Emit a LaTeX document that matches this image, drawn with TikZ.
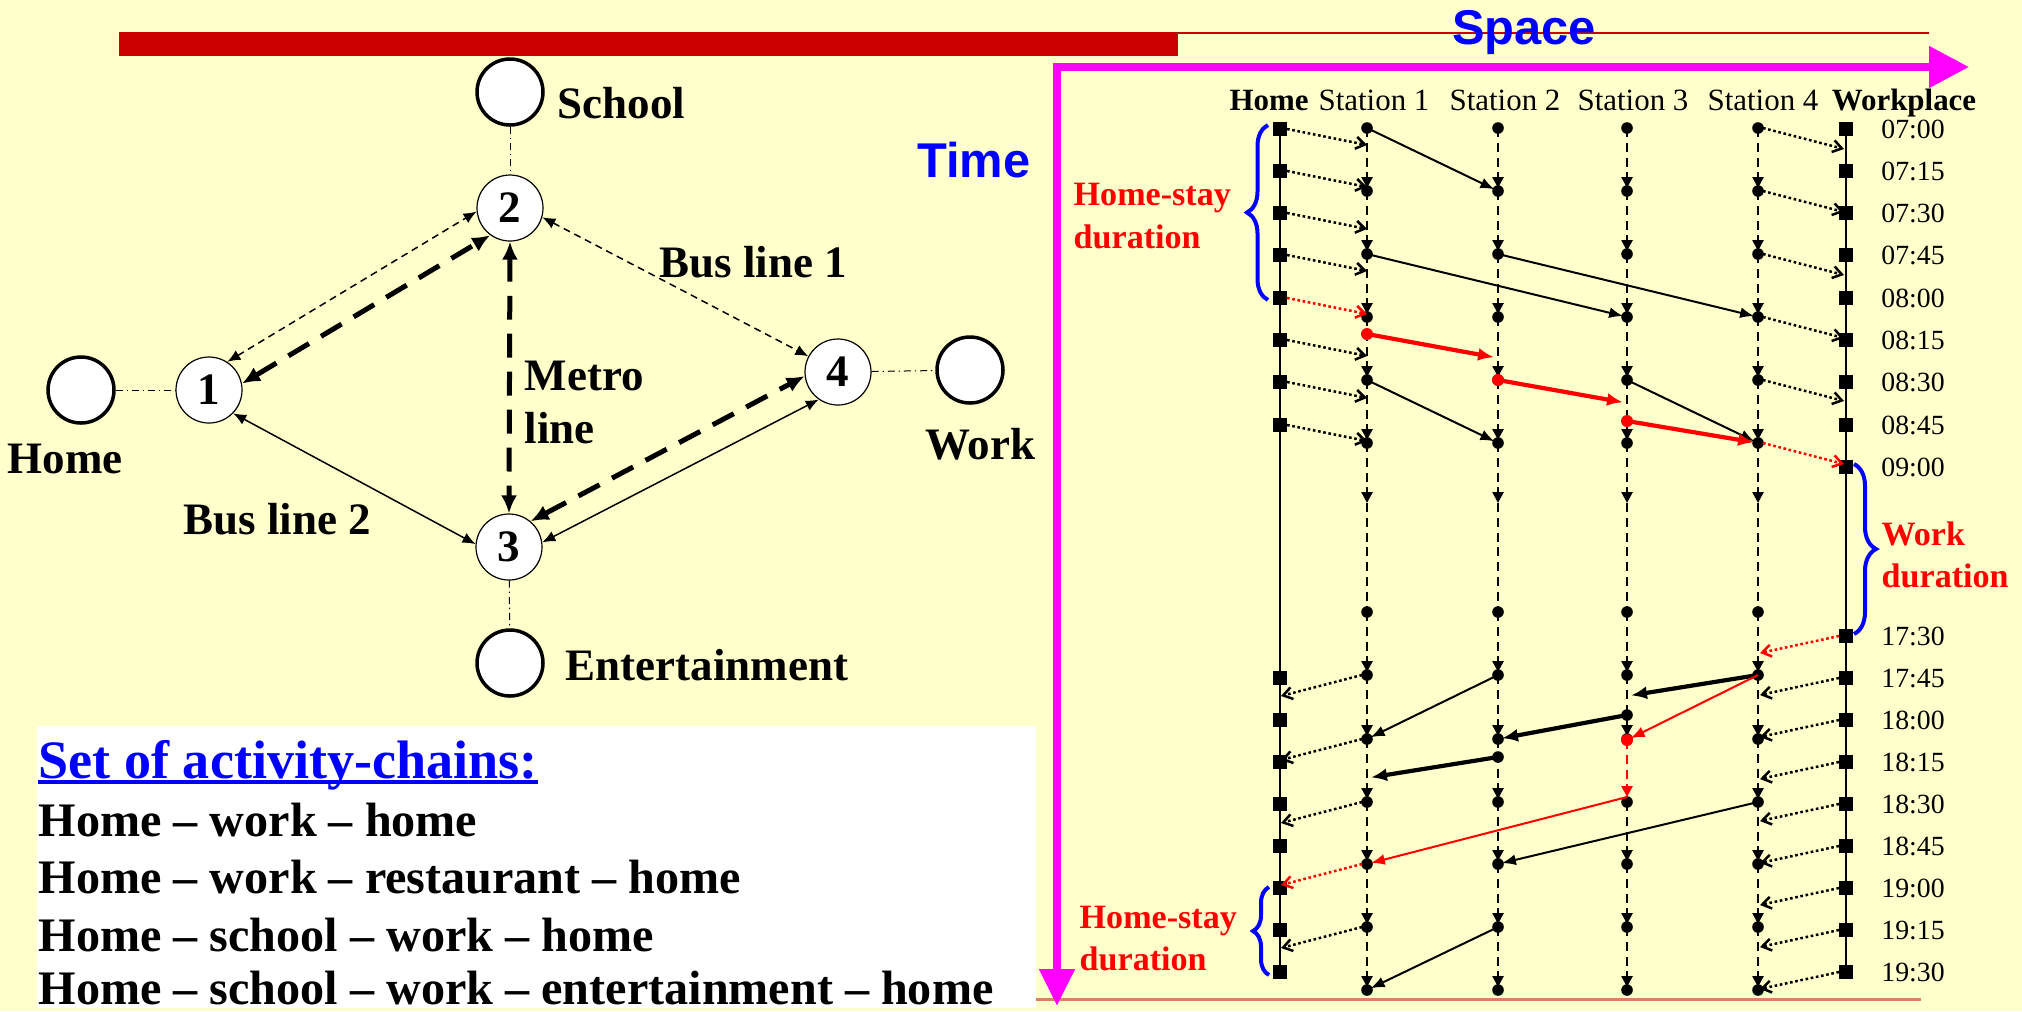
\documentclass[tikz,border=0pt]{standalone}
\usepackage{fontspec}
\setmainfont{Liberation Serif}
\newfontfamily\arialfont{Liberation Sans}
\usetikzlibrary{arrows.meta,decorations.pathreplacing}

\definecolor{paper}{HTML}{FFFFCC}
\definecolor{barred}{HTML}{CC0000}
\definecolor{floorline}{HTML}{DC806C}
\definecolor{axismag}{HTML}{FF00FF}

% x of the chart columns: home, stations 1-4, workplace
\def\xH{1280}
\def\xA{1367}
\def\xB{1498}
\def\xC{1627}
\def\xD{1758}
\def\xW{1846}

\tikzset{
	place/.style={circle, draw, fill=white, line width=0.12mm, minimum size=6.6mm, inner sep=0pt, font=\fontsize{12.8}{14}\selectfont\bfseries},
	spot/.style={circle, draw, fill=white, line width=0.35mm, minimum size=6.6mm, inner sep=0pt},
	netlabel/.style={inner sep=0pt, font=\fontsize{12.8}{14}\selectfont\bfseries},
	feeder/.style={line width=0.1mm, dash pattern=on 2pt off 1.1pt on 0.4pt off 1.1pt},
	busone/.style={line width=0.15mm, dash pattern=on 2pt off 1.4pt, {Latex[length=1.3mm,width=1.1mm]}-{Latex[length=1.3mm,width=1.1mm]}},
	bustwo/.style={line width=0.15mm, {Latex[length=1.3mm,width=1.1mm]}-{Latex[length=1.3mm,width=1.1mm]}},
	metro/.style={line width=0.5mm, dash pattern=on 6.8pt off 4pt, {Latex[length=1.8mm,width=1.6mm]}-{Latex[length=1.8mm,width=1.6mm]}},
	axis/.style={axismag, line width=0.8mm, -{Triangle[length=4mm,width=4mm]}},
	waitline/.style={line width=0.25mm, dash pattern=on 2.6pt off 1.6pt, -{Triangle[length=1.1mm,width=1.1mm]}, shorten >=0.3mm},
	walk/.style={line width=0.25mm, dash pattern=on 0.75pt off 0.75pt, -{Straight Barb[length=0.9mm,width=1.2mm]}},
	ride/.style={line width=0.2mm, -{Latex[length=1.4mm,width=1.1mm]}, shorten >=0.4mm},
	fastride/.style={line width=0.42mm, -{Latex[length=1.6mm,width=1.3mm]}, shorten >=0.4mm},
	span/.style={blue, line width=0.4mm, decorate, decoration={brace, amplitude=#1}},
	span/.default=2mm,
	note/.style={red, inner sep=0pt, anchor=base west, font=\fontsize{9.7}{11}\selectfont\bfseries},
	clock/.style={inner sep=0pt, anchor=base, font=\fontsize{7.9}{9}\selectfont},
	head/.style={inner sep=0pt, anchor=base, font=\fontsize{8.8}{10}\selectfont},
	chain/.style={inner sep=0pt, anchor=base west, font=\fontsize{13.7}{16}\selectfont\bfseries},
	bigword/.style={inner sep=0pt, anchor=base, blue, font=\arialfont\fontsize{13.9}{16}\selectfont\bfseries},
}

\begin{document}
\begin{tikzpicture}[x=0.1mm, y=-0.1mm]
	%%%%% FRAME %%%%%
	\fill[paper] (0,0) rectangle (2022,1011);
	\useasboundingbox (0,0) rectangle (2022,1011);
	
	\fill[barred] (119,32) rectangle (1178,56);
	\draw[barred, line width=0.2mm] (1178,33) -- (1929,33);
	\draw[floorline, line width=0.3mm] (1036,999) -- (1921,999);
	
	%%%%% NETWORK %%%%%
	\node[spot] (home) at (81,390) {};
	\node[spot] (school) at (510,92) {};
	\node[spot] (work) at (970,370) {};
	\node[spot] (fun) at (510,663) {};
	\node[place] (n1) at (209,390) {1};
	\node[place] (n2) at (510,208) {2};
	\node[place] (n3) at (509,547) {3};
	\node[place] (n4) at (838,372) {4};
	
	\draw[feeder] (home) -- (n1);
	\draw[feeder] (school) -- (n2);
	\draw[feeder] (n3) -- (fun);
	\draw[feeder] (n4) -- (work);
	
	\draw[busone] (n1.57) -- (n2.186);
	\draw[busone] (n2.344) -- (n4.152);
	\draw[metro] (n1.11) -- (n2.234);
	\draw[metro] (n2.270) -- (n3.90);
	\draw[metro] (n3.50) -- (n4.187);
	\draw[bustwo] (n1.316) -- (n3.175);
	\draw[bustwo] (n3.8) -- (n4.235);
	
	\node[netlabel, anchor=base west] (lschool) at (557,118) {School};
	\node[netlabel, anchor=base] (lhome) at (65,473) {Home};
	\node[netlabel, anchor=base] (lwork) at (980,459) {Work};
	\node[netlabel, anchor=base west] (lfun) at (565,680) {Entertainment};
	\node[netlabel, anchor=base west] (lbus1) at (659,277) {Bus line 1};
	\node[netlabel, anchor=base west] (lbus2) at (183,534) {Bus line 2};
	\node[netlabel, anchor=base west] (lmetro) at (524,390) {Metro};
	\node[netlabel, anchor=base west] (lline) at (524,443) {line};
	
	%%%%% ACTIVITY CHAINS %%%%%
	\fill[white] (37,726) rectangle (1036,1008);
	\node[chain, blue, font=\fontsize{15.4}{18}\selectfont\bfseries] (title) at (38,778) {Set of activity-chains:};
	\draw[blue, line width=0.35mm] ([yshift=-1.2pt]title.base west) -- ([yshift=-1.2pt]title.base east);
	\node[chain] (c1) at (38,836) {Home – work – home};
	\node[chain] (c2) at (38,893) {Home – work – restaurant – home};
	\node[chain] (c3) at (38,951) {Home – school – work – home};
	\node[chain] (c4) at (38,1004) {Home – school – work – entertainment – home};
	
	%%%%% AXES %%%%%
	\draw[axis] (1057,67) -- (1969,67);
	\draw[axis, -{Triangle[length=3.7mm,width=3.4mm]}] (1057,63) -- (1057,1006);
	\node[bigword] (space) at (1524,44) {Space};
	\node[bigword] (time) at (974,177) {Time};
	
	%%%%% TIME-SPACE CHART %%%%%
	\node[head, font=\fontsize{8.8}{10}\selectfont\bfseries] (hhome) at (1269,110) {Home};
	\node[head] (hs1) at (1374,110) {Station 1};
	\node[head] (hs2) at (1505,110) {Station 2};
	\node[head] (hs3) at (1633,110) {Station 3};
	\node[head] (hs4) at (1763,110) {Station 4};
	\node[head, font=\fontsize{8.8}{10}\selectfont\bfseries] (hwork) at (1904,110) {Workplace};
	
	\foreach \y/\hm in {129/07:00,171/07:15,213/07:30,255/07:45,298/08:00,340/08:15,382/08:30,425/08:45,467/09:00,636/17:30,678/17:45,720/18:00,762/18:15,804/18:30,846/18:45,888/19:00,930/19:15,972/19:30}
		\node[clock] (t\y) at (1913,\y+9) {\hm};
	
	% home and workplace
	\draw[line width=0.17mm] (\xH,129) -- (\xH,972);
	\draw[line width=0.17mm] (\xW,129) -- (\xW,972);
	\foreach \y in {129,171,213,255,298,340,382,425,678,720,762,804,846,888,930,972}
		\fill (\xH,\y) ++(-7,-7) rectangle ++(14,14);
	\foreach \y in {129,171,213,255,298,340,382,425,467,636,678,720,762,804,846,888,930,972}
		\fill (\xW,\y) ++(-7,-7) rectangle ++(14,14);
	
	% stations
	\foreach \x in {\xA,\xB,\xC,\xD}{
		\foreach \ya/\yb in {128/191,191/254,254/317,317/380,380/443,612/675,675/739,802/864,864/927,927/990}
			\draw[waitline] (\x,\ya) -- (\x,\yb);
		\draw[waitline, shorten >=0pt] (\x,443) -- (\x,503);
		\draw[waitline, -] (\x,503) -- (\x,612);
		\foreach \y in {128,191,254,317,380,443,612,675,739,802,864,927,990}
			\fill (\x,\y) circle (0.58mm);
	}
	\foreach \x in {\xA,\xB,\xD}
		\draw[waitline] (\x,739) -- (\x,802);
	\draw[waitline, red, shorten >=0pt] (\xC,740) -- (\xC,797);
	\fill (\xC,715) circle (0.58mm);
	\fill (\xB,757) circle (0.58mm);
	\foreach \x/\y in {\xA/334,\xB/380,\xC/421,\xC/740}
		\fill[red] (\x,\y) circle (0.6mm);
	
	% walking
	\foreach \y in {129,171,213,255,340,382,425}
		\draw[walk] (\xH+7,\y) -- (\xA,\y+16);
	\draw[walk, red] (\xH+7,298) -- (\xA,314);
	\foreach \y in {128,191,254,317,380}
		\draw[walk] (\xD+5,\y) -- (\xW-2,\y+21);
	\draw[walk, red] (\xD+5,443) -- (\xW-2,464);
	\foreach \y in {678,720,762,804,846,888,930,972}
		\draw[walk] (\xW-7,\y) -- (\xD+2,\y+17);
	\draw[walk, red] (\xW-7,636) -- (\xD+2,653);
	\foreach \y in {675,739,802,927}
		\draw[walk] (\xA-5,\y) -- (\xH+1,\y+21);
	\draw[walk, red] (\xA-5,864) -- (\xH+1,885);
	
	% rides
	\draw[ride] (\xA,128) -- (\xB,191);
	\draw[ride] (\xA,254) -- (\xC,317);
	\draw[ride] (\xB,254) -- (\xD,317);
	\draw[ride] (\xC,380) -- (\xD,443);
	\draw[ride] (\xA,380) -- (\xB,443);
	\draw[fastride, red] (\xA,334) -- (\xB,358);
	\draw[fastride, red] (\xB,380) -- (\xC,403);
	\draw[fastride, red] (\xC,421) -- (\xD,443);
	
	\draw[ride] (\xB,675) -- (\xA,739);
	\draw[ride] (\xD,802) -- (\xB,864);
	\draw[ride] (\xB,927) -- (\xA,990);
	\draw[fastride] (\xD,675) -- (\xC,696);
	\draw[fastride] (\xC,715) -- (\xB,739);
	\draw[fastride] (\xB,757) -- (\xA,778);
	\draw[ride, red] (\xD,675) -- (\xC,740);
	\draw[ride, red] (\xC,797) -- (\xA,864);
	
	% durations
	\draw[span=2.1mm] (1268,300) -- (1268,125);
	\draw[span=2.2mm] (1854,464) -- (1854,634);
	\draw[span=1.6mm] (1269,975) -- (1269,887);
	\node[note] (stay1a) at (1073,205) {Home-stay};
	\node[note] (stay1b) at (1073,248) {duration};
	\node[note] (joba) at (1881,545) {Work};
	\node[note] (jobb) at (1881,587) {duration};
	\node[note] (stay2a) at (1079,928) {Home-stay};
	\node[note] (stay2b) at (1079,970) {duration};
\end{tikzpicture}
\end{document}
